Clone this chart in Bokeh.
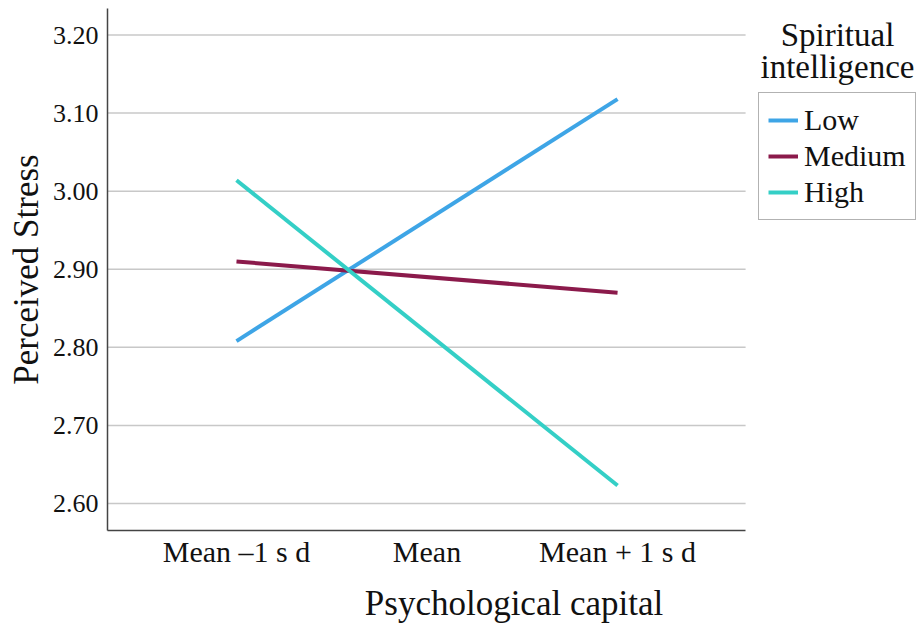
from bokeh.plotting import figure
from bokeh.models import Range1d, FixedTicker, PrintfTickFormatter, Legend, LegendItem, Label
from bokeh.embed import file_html
from bokeh.resources import INLINE

# ---- data ----
categories = ["Mean \u20131 s d", "Mean", "Mean + 1 s d"]
x_points = ["Mean \u20131 s d", "Mean + 1 s d"]
low = [2.808, 3.118]
medium = [2.910, 2.870]
high = [3.014, 2.623]
series_names = ["Low", "Medium", "High"]
y_ticks = [2.60, 2.70, 2.80, 2.90, 3.00, 3.10, 3.20]
legend_title = ["Spiritual", "intelligence"]

colors = ["#3ea5e6", "#8b1a4b", "#34cfc6"]
FONT = "Liberation Serif"

xs = [categories.index(c) for c in x_points]
x_lo, x_hi = -0.677, 2.672          # visible chart area (axis extent)
y_lo, y_hi = 2.5654, 3.234

p = figure(width=920, height=625, output_backend="svg", toolbar_location=None,
           x_range=Range1d(x_lo, 3.59), y_range=Range1d(y_lo, y_hi),
           min_border_left=107, min_border_right=0, min_border_top=8, min_border_bottom=95)
p.outline_line_color = None
p.background_fill_color = "white"
p.border_fill_color = "white"

p.xgrid.grid_line_color = None
p.ygrid.grid_line_color = None

# horizontal grid lines at tick values, limited to the chart area
p.segment(x0=[x_lo] * len(y_ticks), x1=[x_hi] * len(y_ticks), y0=y_ticks, y1=y_ticks,
          line_color="#c8c8c8", line_width=1.5)

p.xaxis.ticker = FixedTicker(ticks=list(range(len(categories))))
p.xaxis.major_label_overrides = {i: c for i, c in enumerate(categories)}
p.xaxis.bounds = (x_lo, x_hi)
p.yaxis.ticker = FixedTicker(ticks=y_ticks)
p.yaxis.formatter = PrintfTickFormatter(format="%.2f")

for ax in (p.xaxis[0], p.yaxis[0]):
    ax.major_tick_line_color = None
    ax.minor_tick_line_color = None
    ax.axis_line_color = "#444444"
    ax.axis_line_width = 1.5
    ax.major_label_text_font = FONT
    ax.axis_label_text_font = FONT
    ax.axis_label_text_font_style = "normal"
    ax.major_label_text_color = "#111111"
    ax.axis_label_text_color = "#111111"
    ax.axis_label_text_font_size = "35px"

p.xaxis.axis_label = "Psychological capital"
p.yaxis.axis_label = "Perceived Stress"
p.xaxis.major_label_text_font_size = "30px"
p.yaxis.major_label_text_font_size = "26px"
p.xaxis.major_label_standoff = -2
p.xaxis.axis_label_standoff = 13
p.yaxis.major_label_standoff = 3
p.yaxis.axis_label_standoff = 4

renderers = []
for name, vals, col in zip(series_names, [low, medium, high], colors):
    r = p.line(xs, vals, line_color=col, line_width=4)
    renderers.append(r)

legend = Legend(items=[LegendItem(label=n, renderers=[r]) for n, r in zip(series_names, renderers)],
                location=(651, 310))
legend.label_text_font = FONT
legend.label_text_font_size = "30px"
legend.label_text_color = "#111111"
legend.label_height = 36
legend.glyph_height = 36
legend.glyph_width = 30
legend.label_standoff = 6
legend.spacing = 0
legend.padding = 9
legend.margin = 0
legend.border_line_color = "#666666"
legend.border_line_width = 1.5
legend.background_fill_alpha = 1
p.add_layout(legend, "center")

for txt, yy in zip(legend_title, [496, 464]):
    p.add_layout(Label(x=730, y=yy, x_units="screen", y_units="screen", text=txt,
                       text_font=FONT, text_font_size="33px", text_color="#111111",
                       text_align="center", text_baseline="middle"))

open("out.html", "w").write(file_html(p, INLINE))
